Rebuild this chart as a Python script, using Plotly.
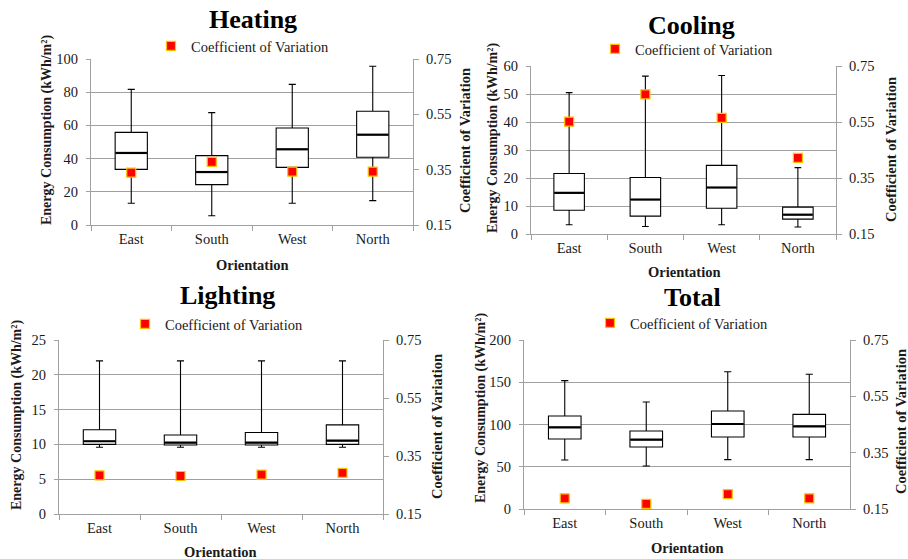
import plotly.graph_objects as go

# ---------------- data ----------------
categories = ["East", "South", "West", "North"]

heating_low = [13.1, 5.6, 13.1, 14.7]
heating_q1 = [33.5, 24.3, 34.7, 40.8]
heating_med = [43.4, 31.9, 45.6, 54.4]
heating_q3 = [55.8, 41.8, 58.4, 68.5]
heating_high = [81.7, 67.7, 84.7, 95.6]
heating_cv = [0.339, 0.378, 0.343, 0.343]

cooling_low = [3.3, 2.7, 3.3, 2.5]
cooling_q1 = [8.5, 6.4, 9.2, 5.3]
cooling_med = [14.7, 12.3, 16.6, 6.9]
cooling_q3 = [21.6, 20.2, 24.5, 9.6]
cooling_high = [50.5, 56.4, 56.6, 23.7]
cooling_cv = [0.551, 0.649, 0.565, 0.422]

lighting_low = [9.6, 9.6, 9.6, 9.6]
lighting_q1 = [10.0, 9.92, 9.92, 10.0]
lighting_med = [10.45, 10.26, 10.26, 10.54]
lighting_q3 = [12.1, 11.35, 11.7, 12.8]
lighting_high = [22.0, 22.0, 22.0, 22.0]
lighting_cv = [0.283, 0.281, 0.286, 0.292]

total_low = [58.0, 50.9, 58.4, 58.4]
total_q1 = [82.8, 73.4, 85.2, 85.2]
total_med = [96.6, 82.0, 100.6, 97.8]
total_q3 = [110.1, 92.3, 116.0, 112.0]
total_high = [151.9, 126.6, 162.5, 159.4]
total_cv = [0.188, 0.168, 0.203, 0.188]

panel_titles = ["Heating", "Cooling", "Lighting", "Total"]
left_max = [100, 60, 25, 200]
left_dtick = [20, 10, 5, 50]
cv_ticks = [0.15, 0.35, 0.55, 0.75]

legend_label = "Coefficient of Variation"
left_title = "Energy Consumption (kWh/m²)"
right_title = "Coefficient of Variation"
x_title = "Orientation"

# ---------------- layout geometry (pixels, screen coordinates) ----------------
W, H = 908, 559
FONT = "Liberation Serif"
GRID = "#A0A0A0"
TXT = "#1a1a1a"

panels = [
    dict(low=heating_low, q1=heating_q1, med=heating_med, q3=heating_q3, high=heating_high, cv=heating_cv,
         px=(91, 413), py=(59, 225), title=(253, 19), legx=151, legy=46,
         lt=(47, 130), rt=(465, 141), xt=(252, 265)),
    dict(low=cooling_low, q1=cooling_q1, med=cooling_med, q3=cooling_q3, high=cooling_high, cv=cooling_cv,
         px=(531, 836), py=(66, 234), title=(691, 26), legx=595, legy=49,
         lt=(493, 138), rt=(891, 150), xt=(684, 272)),
    dict(low=lighting_low, q1=lighting_q1, med=lighting_med, q3=lighting_q3, high=lighting_high, cv=lighting_cv,
         px=(59, 383), py=(340, 514), title=(227, 295), legx=125, legy=324,
         lt=(17, 415), rt=(437, 427), xt=(220, 552)),
    dict(low=total_low, q1=total_q1, med=total_med, q3=total_q3, high=total_high, cv=total_cv,
         px=(524, 850), py=(340, 509), title=(692, 297), legx=590, legy=323,
         lt=(481, 408), rt=(901, 422), xt=(687, 548)),
]


def fx(p):
    return p / W


def fy(p):
    return 1 - p / H


fig = go.Figure()
layout = dict(
    width=W, height=H, margin=dict(l=0, r=0, t=0, b=0, pad=0, autoexpand=False),
    paper_bgcolor="white", plot_bgcolor="white",
    font=dict(family=FONT, size=14, color=TXT),
    showlegend=True, annotations=[],
)

BOXW = 0.4
for i, p in enumerate(panels):
    n = i + 1
    xa = "x" if n == 1 else f"x{n}"
    ya = "y" if n == 1 else f"y{n}"
    ya2 = f"y{n + 4}"
    leg = "legend" if n == 1 else f"legend{n}"

    fig.add_trace(go.Box(
        x=categories, q1=p["q1"], median=p["med"], q3=p["q3"],
        lowerfence=p["low"], upperfence=p["high"],
        boxpoints=False, width=BOXW, whiskerwidth=0.22,
        fillcolor="white", line=dict(color="black", width=1.1),
        xaxis=xa, yaxis=ya, showlegend=False, hoverinfo="skip",
    ))
    boxpx = (p["px"][1] - p["px"][0]) / 4 * BOXW
    fig.add_trace(go.Scatter(
        x=categories, y=p["med"], mode="markers",
        marker=dict(symbol="line-ew", size=(boxpx - 1) / 1.4, line=dict(color="black", width=2.2)),
        xaxis=xa, yaxis=ya, showlegend=False, hoverinfo="skip",
    ))
    fig.add_trace(go.Scatter(
        x=categories, y=p["cv"], mode="markers", name=legend_label,
        marker=dict(symbol="square", size=9, color="#FF0000",
                    line=dict(color="#FFC000", width=1.2)),
        xaxis=xa, yaxis=ya2, legend=leg, showlegend=True, hoverinfo="skip",
    ))

    xdom = [fx(p["px"][0]), fx(p["px"][1])]
    ydom = [fy(p["py"][1]), fy(p["py"][0])]
    xkey = "xaxis" if n == 1 else f"xaxis{n}"
    ykey = "yaxis" if n == 1 else f"yaxis{n}"
    layout[xkey] = dict(
        domain=xdom, anchor=ya, type="category", range=[-0.5, 3.5], automargin=False,
        tickson="boundaries", ticks="outside", ticklen=5, tickcolor=GRID,
        showline=True, linecolor=GRID, linewidth=1.3, showgrid=False,
        tickfont=dict(size=14.5, color=TXT),
    )
    layout[ykey] = dict(
        domain=ydom, anchor=xa, range=[0, left_max[i]], dtick=left_dtick[i], tick0=0,
        automargin=False,
        showgrid=True, gridcolor=GRID, gridwidth=1.3, zeroline=False,
        showline=True, linecolor=GRID, linewidth=1.3,
        ticks="outside", ticklen=4, tickcolor=GRID, ticklabelstandoff=5,
        tickfont=dict(size=14.5, color=TXT),
    )
    layout[f"yaxis{n + 4}"] = dict(
        domain=ydom, anchor=xa, overlaying=ya, side="right", automargin=False,
        range=[cv_ticks[0], cv_ticks[-1]], tickvals=cv_ticks, tickformat=".2f",
        showgrid=False, zeroline=False, showline=True, linecolor=GRID, linewidth=1.3,
        ticks="outside", ticklen=5, tickcolor=GRID, ticklabelstandoff=4,
        tickfont=dict(size=14.5, color=TXT),
    )
    layout[leg] = dict(
        x=fx(p["legx"]), y=fy(p["legy"]), xanchor="left", yanchor="middle",
        bgcolor="rgba(0,0,0,0)", borderwidth=0,
        font=dict(family=FONT, size=14.5, color=TXT),
        itemclick=False, itemdoubleclick=False,
    )
    anns = layout["annotations"]
    anns.append(dict(text=f"<b>{panel_titles[i]}</b>", x=fx(p["title"][0]), y=fy(p["title"][1]),
                     xref="paper", yref="paper", showarrow=False, xanchor="center", yanchor="middle",
                     font=dict(family=FONT, size=26, color="black")))
    anns.append(dict(text=f"<b>{left_title}</b>", x=fx(p["lt"][0]), y=fy(p["lt"][1]),
                     xref="paper", yref="paper", showarrow=False, textangle=-90,
                     xanchor="center", yanchor="middle",
                     font=dict(family=FONT, size=14, color=TXT)))
    anns.append(dict(text=f"<b>{right_title}</b>", x=fx(p["rt"][0]), y=fy(p["rt"][1]),
                     xref="paper", yref="paper", showarrow=False, textangle=-90,
                     xanchor="center", yanchor="middle",
                     font=dict(family=FONT, size=14.5, color=TXT)))
    anns.append(dict(text=f"<b>{x_title}</b>", x=fx(p["xt"][0]), y=fy(p["xt"][1]),
                     xref="paper", yref="paper", showarrow=False,
                     xanchor="center", yanchor="middle",
                     font=dict(family=FONT, size=14.5, color=TXT)))

fig.update_layout(**layout)
fig.write_html(
    "out.html",
    config={"displayModeBar": False, "staticPlot": False},
    post_script="document.body.style.margin='0';document.body.style.overflow='hidden';",
)
